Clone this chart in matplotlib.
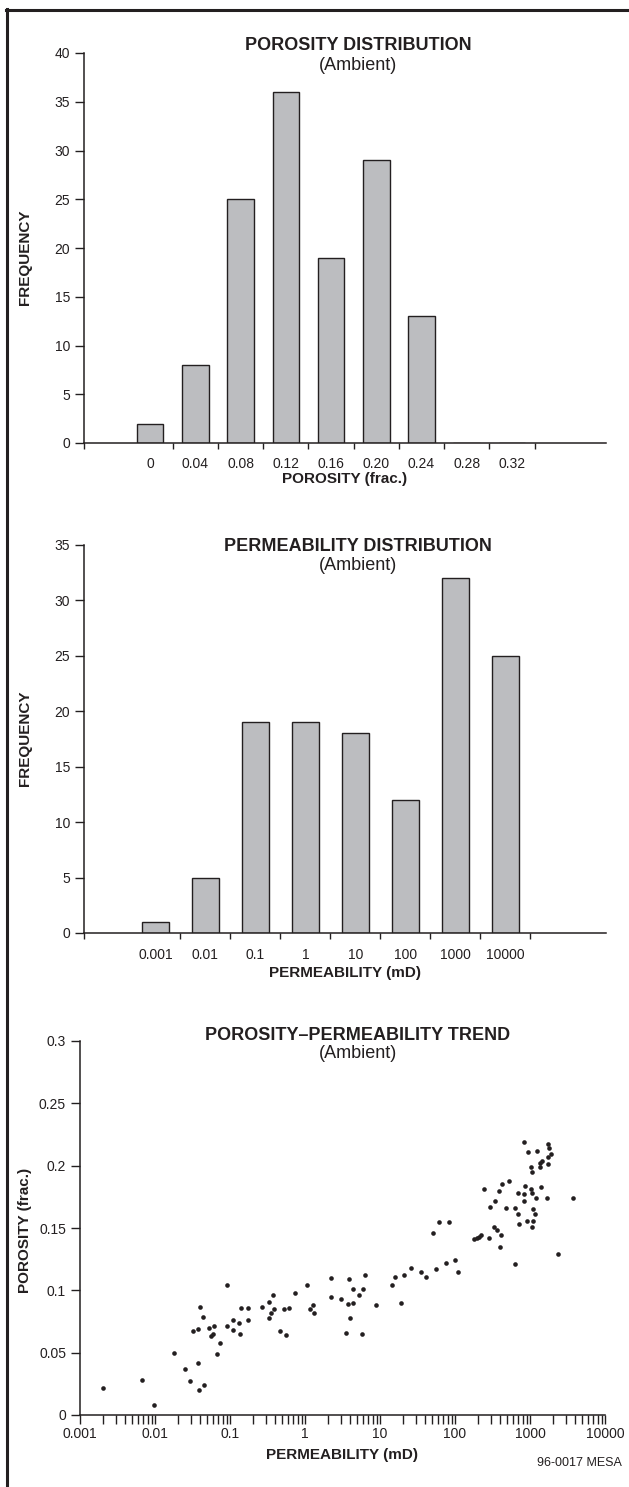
import matplotlib
matplotlib.use("Agg")
import matplotlib.pyplot as plt
from matplotlib.lines import Line2D
from matplotlib.ticker import FixedLocator, LogLocator, NullFormatter

# Porosity histogram.
porosity_bins        = ["0", "0.04", "0.08", "0.12", "0.16", "0.20", "0.24", "0.28", "0.32"]
porosity_frequencies = [2, 8, 25, 36, 19, 29, 13, 0, 0]

# Permeability histogram.
permeability_bins        = ["0.001", "0.01", "0.1", "1", "10", "100", "1000", "10000"]
permeability_frequencies = [1, 5, 19, 19, 18, 12, 32, 25]

# Core samples: permeability (mD) and porosity (frac.).
sample_permeability = [
  0.0020, 0.0067, 0.0096, 0.018, 0.025, 0.029, 0.032, 0.037, 0.037, 0.040,
  0.043, 0.039, 0.045, 0.053, 0.056, 0.060, 0.062, 0.068, 0.074, 0.092,
  0.092, 0.109, 0.109, 0.132, 0.137, 0.142, 0.174, 0.174, 0.27, 0.33,
  0.33, 0.35, 0.37, 0.39, 0.46, 0.52, 0.55, 0.61, 0.74, 1.07,
  1.15, 1.29, 1.33, 2.2, 2.2, 3.0, 3.5, 3.7, 3.9, 4.0,
  4.3, 4.4, 5.3, 6.0, 5.8, 6.3, 8.8, 14.6, 15.7, 19.2,
  21.1, 26.2, 35.6, 41.0, 55.2, 75.2, 100, 111, 51, 61,
  84, 181, 195, 209, 224, 244, 284, 293, 334, 345,
  363, 382, 398, 415, 428, 479, 520, 631, 631, 692,
  692, 721, 832, 849, 840, 832, 940, 921, 1021, 1021,
  1052, 1052, 1052, 1086, 1107, 1177, 1214, 1252, 1360, 1388,
  1360, 1445, 1702, 1738, 1755, 1770, 1755, 1905, 2362, 3783,
]
sample_porosity = [
  0.022, 0.028, 0.008, 0.050, 0.037, 0.027, 0.067, 0.069, 0.042, 0.087,
  0.079, 0.020, 0.024, 0.070, 0.063, 0.065, 0.071, 0.049, 0.058, 0.104,
  0.071, 0.068, 0.076, 0.074, 0.065, 0.086, 0.086, 0.076, 0.087, 0.091,
  0.078, 0.082, 0.096, 0.085, 0.067, 0.085, 0.064, 0.086, 0.098, 0.104,
  0.085, 0.088, 0.082, 0.110, 0.095, 0.093, 0.066, 0.089, 0.109, 0.078,
  0.090, 0.101, 0.096, 0.101, 0.065, 0.112, 0.088, 0.104, 0.111, 0.090,
  0.112, 0.118, 0.115, 0.111, 0.117, 0.122, 0.124, 0.115, 0.146, 0.155,
  0.155, 0.141, 0.142, 0.143, 0.144, 0.181, 0.142, 0.167, 0.151, 0.172,
  0.148, 0.180, 0.135, 0.144, 0.185, 0.166, 0.188, 0.166, 0.121, 0.178,
  0.161, 0.153, 0.219, 0.184, 0.177, 0.172, 0.211, 0.156, 0.181, 0.199,
  0.195, 0.178, 0.151, 0.165, 0.156, 0.161, 0.174, 0.212, 0.199, 0.183,
  0.202, 0.204, 0.174, 0.201, 0.217, 0.214, 0.207, 0.209, 0.129, 0.174,
]

ink      = "#231f20"
bar_fill = "#bcbdc0"

plt.rcParams["font.family"] = ["Liberation Sans", "DejaVu Sans"]
plt.rcParams["axes.linewidth"] = 1.1
plt.rcParams["axes.edgecolor"] = ink
plt.rcParams["xtick.color"] = ink
plt.rcParams["ytick.color"] = ink
plt.rcParams["text.color"] = ink

W, H = 629, 1487
fig = plt.figure(figsize=(W/100, H/100), dpi=100)

def px_axes(left, top, right, bottom):
  # Axes rectangle given in pixel coordinates measured from the top left.
  return fig.add_axes([left/W, 1 - bottom/H, (right - left)/W, (bottom - top)/H])

def style_axes(ax):
  for side in ["top", "right"]:
    ax.spines[side].set_visible(False)
  ax.tick_params(axis="y", direction="out", length=6.5, width=1.0, pad=3.5, labelsize=10)

def titles(ax, x, y_title, y_sub, title):
  ax.text(x, y_title, title, transform=ax.transAxes, ha="center", va="center",
          fontsize=13, fontweight="bold")
  ax.text(x, y_sub, "(Ambient)", transform=ax.transAxes, ha="center", va="center",
          fontsize=13)

def histogram(ax, labels, frequencies, xlim, width, ymax, label_pad):
  positions = list(range(len(labels)))
  ax.bar(positions, frequencies, width=width, color=bar_fill, edgecolor=ink,
         linewidth=1.0, zorder=2)
  ax.set_xlim(*xlim)
  ax.set_ylim(0, ymax)
  ax.set_yticks(range(0, ymax + 1, 5))
  ax.set_xticks(positions)
  ax.set_xticklabels(labels)
  ax.xaxis.set_minor_locator(FixedLocator([xlim[0]] + [p + 0.5 for p in positions]))
  ax.tick_params(axis="x", which="major", length=0, pad=label_pad, labelsize=10)
  ax.tick_params(axis="x", which="minor", direction="out", length=4.5, width=1.0)
  style_axes(ax)

# Porosity distribution.
ax1 = px_axes(84, 53, 606, 443)
histogram(ax1, porosity_bins, porosity_frequencies, (-1.464, 10.08), 0.586, 40, 10)
titles(ax1, 0.525, 1.0205, 0.969, "POROSITY DISTRIBUTION")
ax1.text(0.5, -0.092, "POROSITY (frac.)", transform=ax1.transAxes, ha="center",
         va="center", fontsize=11, fontweight="bold")
fig.text(25/W, 1 - 257/H, "FREQUENCY", rotation=90, ha="center", va="center",
         fontsize=11, fontweight="bold")

# Permeability distribution.
ax2 = px_axes(84, 545, 606, 933)
histogram(ax2, permeability_bins, permeability_frequencies, (-1.428, 9.01), 0.53, 35, 11)
titles(ax2, 0.525, 0.995, 0.946, "PERMEABILITY DISTRIBUTION")
ax2.text(0.5, -0.102, "PERMEABILITY (mD)", transform=ax2.transAxes, ha="center",
         va="center", fontsize=11, fontweight="bold")
fig.text(25/W, 1 - 738/H, "FREQUENCY", rotation=90, ha="center", va="center",
         fontsize=11, fontweight="bold")

# Porosity-permeability trend.
ax3 = px_axes(80, 1041, 605, 1415)
ax3.scatter(sample_permeability, sample_porosity, s=11, color=ink, linewidths=0,
            zorder=3, clip_on=False)
ax3.set_xscale("log")
ax3.set_xlim(0.001, 10000)
ax3.set_ylim(0, 0.3)
ax3.set_xticks([0.001, 0.01, 0.1, 1, 10, 100, 1000, 10000])
ax3.set_xticklabels(["0.001", "0.01", "0.1", "1", "10", "100", "1000", "10000"])
ax3.xaxis.set_minor_locator(LogLocator(base=10, subs=range(2, 10), numticks=20))
ax3.xaxis.set_minor_formatter(NullFormatter())
ax3.set_yticks([0, 0.05, 0.1, 0.15, 0.2, 0.25, 0.3])
ax3.set_yticklabels(["0", "0.05", "0.1", "0.15", "0.2", "0.25", "0.3"])
ax3.tick_params(axis="x", which="both", direction="out", length=6.5, width=1.0,
                pad=2.5, labelsize=10)
style_axes(ax3)
titles(ax3, 0.5286, 1.015, 0.966, "POROSITY\u2013PERMEABILITY TREND")
ax3.text(0.499, -0.107, "PERMEABILITY (mD)", transform=ax3.transAxes, ha="center",
         va="center", fontsize=11, fontweight="bold")
fig.text(25/W, 1 - 1230/H, "POROSITY (frac.)", rotation=90, ha="center", va="center",
         fontsize=11, fontweight="bold")

# Page frame: top and left rules only.
fig.add_artist(Line2D([6/W, 1], [1 - 9.5/H, 1 - 9.5/H], transform=fig.transFigure,
                      color=ink, linewidth=2.2))
fig.add_artist(Line2D([7/W, 7/W], [1 - 8.5/H, 0], transform=fig.transFigure,
                      color=ink, linewidth=2.2))

fig.text(622/W, 1 - 1463/H, "96-0017 MESA", ha="right", va="center", fontsize=9)

fig.savefig("out.png", dpi=100)
